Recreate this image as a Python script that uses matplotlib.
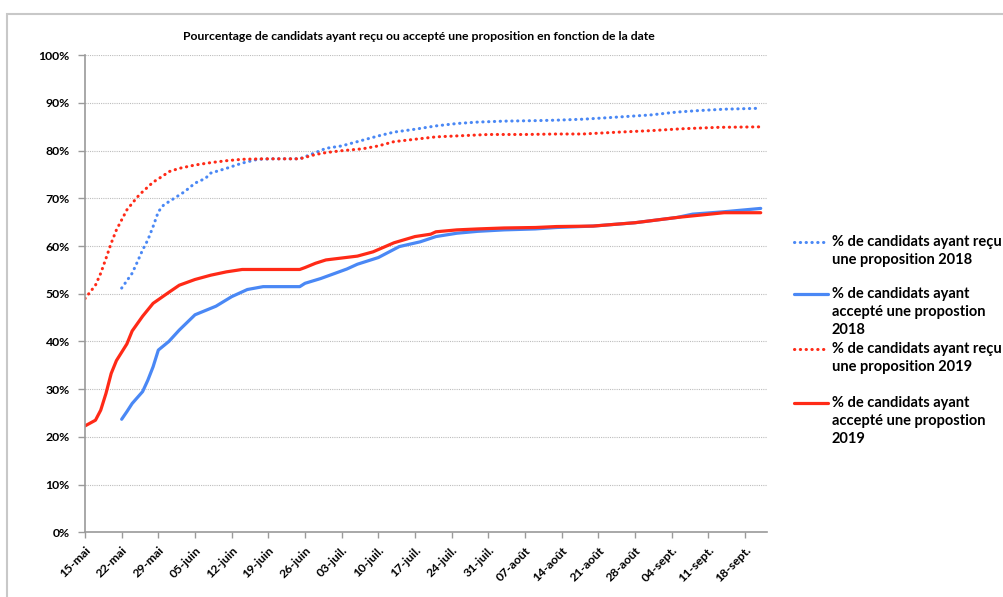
import matplotlib
matplotlib.use("Agg")
import matplotlib.pyplot as plt
from matplotlib.lines import Line2D
from matplotlib.patches import Rectangle

plt.rcParams["font.family"] = ["Lato", "DejaVu Sans"]

# days counted from 15 May
tick_days = list(range(0, 127, 7))
tick_labels = ["15-mai", "22-mai", "29-mai", "05-juin", "12-juin", "19-juin",
               "26-juin", "03-juil.", "10-juil.", "17-juil.", "24-juil.",
               "31-juil.", "07-août", "14-août", "21-août", "28-août",
               "04-sept.", "11-sept.", "18-sept."]

recu_2018_days = [7, 9, 10, 11, 12, 13, 14, 15, 17, 19, 21, 23, 24, 27, 30, 33,
                  36, 41, 44, 46, 49, 53, 56, 59, 63, 67, 71, 75, 80, 86, 90,
                  95, 101, 108, 113, 117, 122, 129]
recu_2018 = [51.2, 54.3, 56.7, 59.2, 61.3, 64.1, 67.2, 68.6, 70.0, 71.4, 73.2,
             74.2, 75.3, 76.3, 77.4, 78.2, 78.3, 78.3, 79.6, 80.5, 81.0, 82.2,
             83.1, 83.9, 84.5, 85.2, 85.7, 86.0, 86.2, 86.3, 86.4, 86.6, 87.0,
             87.5, 88.1, 88.4, 88.7, 88.9]

accepte_2018_days = [7, 8, 9, 11, 12, 13, 14, 16, 18, 21, 25, 28, 31, 34, 41,
                     42, 45, 47, 50, 52, 56, 60, 64, 67, 71, 75, 80, 86, 90,
                     97, 105, 113, 116, 122, 129]
accepte_2018 = [23.7, 25.3, 27.0, 29.5, 31.9, 34.7, 38.2, 40.0, 42.4, 45.6,
                47.4, 49.4, 50.9, 51.5, 51.5, 52.2, 53.2, 54.0, 55.2, 56.2,
                57.6, 59.9, 60.9, 62.0, 62.7, 63.1, 63.4, 63.6, 63.9, 64.2,
                64.9, 66.0, 66.7, 67.2, 67.9]

recu_2019_days = [0, 2, 3, 4, 5, 6, 7, 8, 10, 11, 13, 15, 16, 18, 21, 24, 27,
                  30, 34, 41, 44, 46, 49, 53, 56, 59, 63, 67, 71, 77, 84, 90,
                  95, 102, 108, 114, 121, 129]
recu_2019 = [49.0, 51.8, 54.3, 57.4, 60.6, 63.4, 65.5, 67.6, 70.3, 71.4, 73.4,
             74.8, 75.6, 76.3, 77.0, 77.5, 77.9, 78.2, 78.3, 78.3, 79.2, 79.6,
             80.0, 80.4, 81.0, 81.9, 82.4, 82.9, 83.1, 83.4, 83.4, 83.5, 83.5,
             83.9, 84.2, 84.6, 84.9, 85.0]

accepte_2019_days = [0, 2, 3, 4, 5, 6, 8, 9, 11, 13, 16, 18, 21, 24, 27, 30,
                     34, 41, 42, 44, 46, 49, 52, 55, 59, 63, 66, 67, 71, 75,
                     80, 86, 90, 97, 105, 113, 122, 129]
accepte_2019 = [22.3, 23.5, 25.6, 29.1, 33.3, 36.0, 39.5, 42.2, 45.3, 48.0,
                50.3, 51.8, 53.0, 53.9, 54.6, 55.1, 55.1, 55.1, 55.5, 56.4,
                57.1, 57.5, 57.9, 58.8, 60.7, 62.0, 62.5, 63.0, 63.4, 63.6,
                63.8, 63.9, 64.1, 64.2, 64.9, 66.0, 67.0, 67.0]

labels = ["% de candidats ayant reçu\nune proposition 2018",
          "% de candidats ayant\naccepté une propostion\n2018",
          "% de candidats ayant reçu\nune proposition 2019",
          "% de candidats ayant\naccepté une propostion\n2019"]

BLUE = "#4a88f5"
RED = "#ff2a17"
W, H = 1004, 597

fig = plt.figure(figsize=(W / 100, H / 100), dpi=100)
ax = fig.add_axes([85 / W, 1 - 532.3 / H, (767 - 85) / W, (532.3 - 55.3) / H])

dot = dict(linestyle=(0, (0.1, 1.8)), linewidth=2.2, dash_capstyle="round")
solid = dict(linestyle="-", linewidth=2.3, solid_capstyle="round")
series = [
    (recu_2018_days, recu_2018, BLUE, dot),
    (accepte_2018_days, accepte_2018, BLUE, solid),
    (recu_2019_days, recu_2019, RED, dot),
    (accepte_2019_days, accepte_2019, RED, solid),
]
for d, v, c, st in series:
    ax.plot(d, [x / 100 for x in v], color=c, **st)

ax.set_xlim(0, 130.2)
ax.set_ylim(0, 1)
ax.set_yticks([i / 10 for i in range(11)])
ax.set_yticklabels([f"{i * 10}%" for i in range(11)], fontsize=8.8,
                   fontweight="bold")
ax.set_xticks(tick_days)
ax.set_xticklabels(tick_labels, rotation=45, ha="right", va="top",
                   rotation_mode="anchor", fontsize=8.8, fontweight="bold")
ax.tick_params(axis="y", length=5, width=1, color="#9a9a9a", pad=6)
ax.tick_params(axis="x", length=4, width=1, color="#9a9a9a", pad=5)
ax.grid(axis="y", linestyle=(0, (1, 1)), color="#bdbdbd", linewidth=0.8)
ax.set_axisbelow(True)
for s in ["top", "right"]:
    ax.spines[s].set_visible(False)
for s in ["left", "bottom"]:
    ax.spines[s].set_color("#9a9a9a")
    ax.spines[s].set_linewidth(1.2)

fig.text(419 / W, 1 - 36 / H,
         "Pourcentage de candidats ayant reçu ou accepté une proposition en fonction de la date",
         ha="center", va="center", fontsize=8.8, fontweight="bold")

# legend drawn by hand so the key sits on the first text line
entry_y = [242, 294, 349, 403]
pitch = 18
for (d, v, c, st), lab, y in zip(series, labels, entry_y):
    fig.add_artist(Line2D([794 / W, 828 / W], [1 - y / H, 1 - y / H],
                          color=c, transform=fig.transFigure, **st))
    for k, line in enumerate(lab.split("\n")):
        fig.text(832 / W, 1 - (y + k * pitch) / H, line, ha="left",
                 va="center", fontsize=10.5, fontweight="bold")

fig.add_artist(Rectangle((7 / W, -0.1), 1.2, 1.1 - 14 / H,
                         transform=fig.transFigure, fill=False,
                         edgecolor="#c8c8c8", linewidth=1.5))

fig.savefig("out.png", dpi=100)
